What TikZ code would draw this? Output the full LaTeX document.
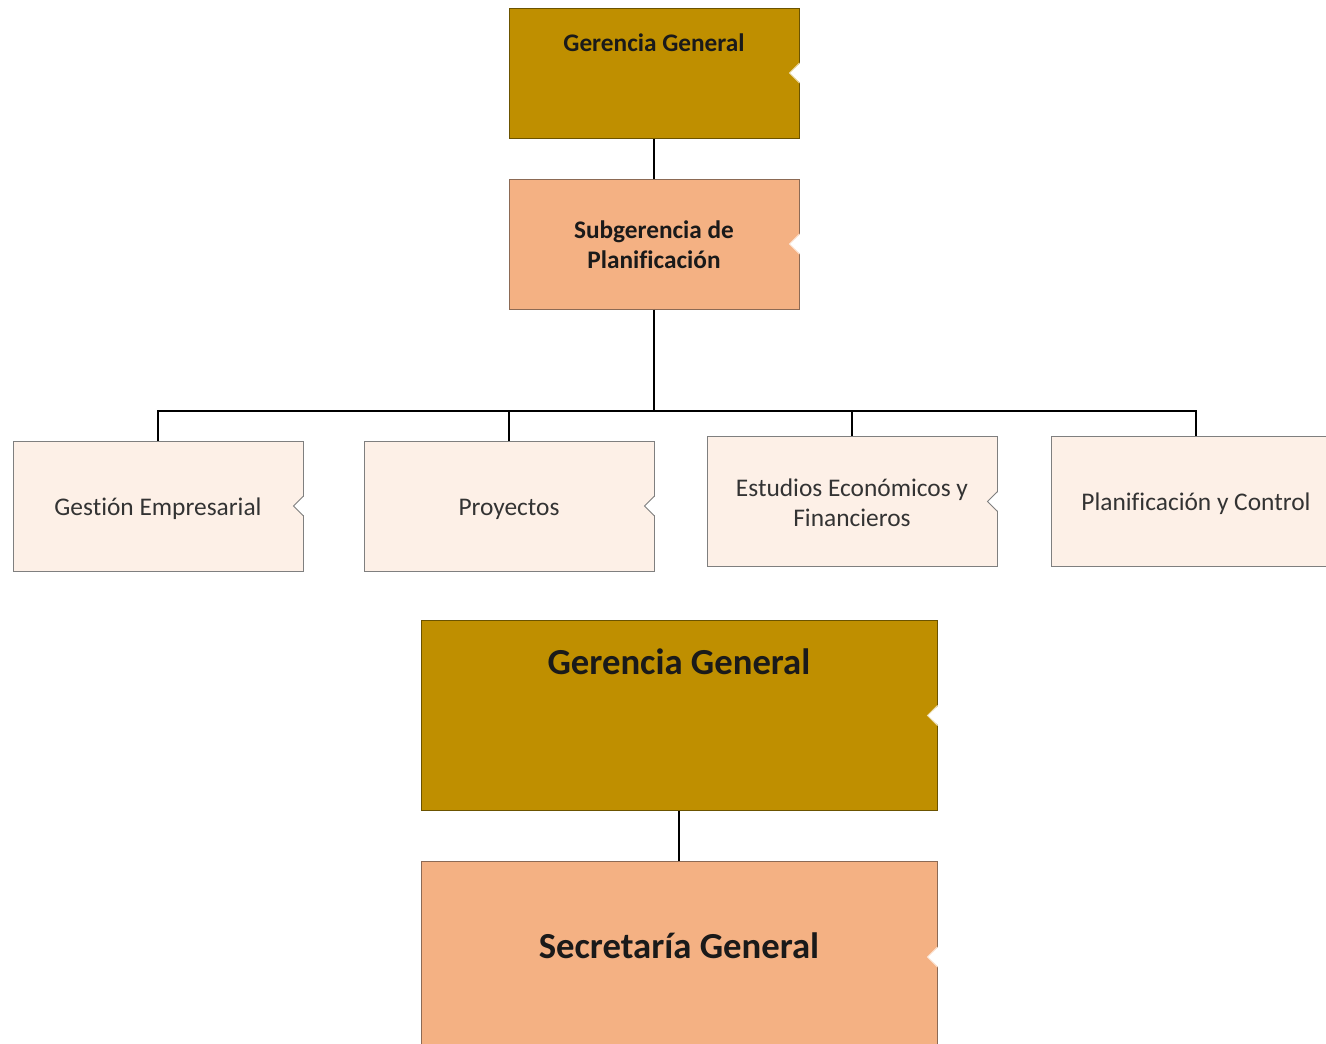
\documentclass[tikz,border=0pt]{standalone}
\usepackage{fontspec}
\setmainfont[Ligatures=NoCommon]{Carlito}
\definecolor{gold}{HTML}{BF8F00}
\definecolor{goldline}{HTML}{6B5300}
\definecolor{peach}{HTML}{F4B183}
\definecolor{peachline}{HTML}{8C6A55}
\definecolor{cream}{HTML}{FDF0E7}
\definecolor{creamline}{HTML}{7F7F7F}
\definecolor{txt}{HTML}{1A1A1A}
\definecolor{txtg}{HTML}{333333}
\newcommand{\notchat}[2]{%
  \fill[white] ([xshift=1.5pt,yshift=10.5pt]#1.east) -- ([xshift=-10pt]#1.east) -- ([xshift=1.5pt,yshift=-10.5pt]#1.east) -- cycle;
  \draw[#2,line width=1pt,line join=miter] ([yshift=10pt]#1.east) -- ([xshift=-10pt]#1.east) -- ([yshift=-10pt]#1.east);}
\begin{document}
\begin{tikzpicture}[x=1pt,y=-1pt,
  boxbase/.style={line width=1pt, inner sep=0pt, align=center},
  goldbox/.style={boxbase, draw=goldline, fill=gold},
  peachbox/.style={boxbase, draw=peachline, fill=peach},
  creambox/.style={boxbase, draw=creamline, fill=cream, minimum width=290pt, minimum height=130pt,
     text=txtg, font=\fontsize{25.4}{30}\selectfont},
  smallsize/.style={minimum width=290pt, minimum height=130pt},
  bigsize/.style={minimum width=516pt, minimum height=190pt},
  boldtxt/.style={text=txt, font=\fontsize{25.3}{30}\selectfont\bfseries, align=center},
  bigtxt/.style={text=txt, font=\fontsize{36.7}{42}\selectfont\bfseries},
  conn/.style={draw=black, line width=2.8pt},
  connthin/.style={draw=black, line width=2.3pt}]
\useasboundingbox (0,0) rectangle (1326,1044);
\clip (0,0) rectangle (1326,1044);
\fill[white] (0,0) rectangle (1326,1044);

% top chart
\node[goldbox, smallsize] (gg1) at (654,73) {};
\node[boldtxt] (gg1t) at (654,43) {Gerencia General};
\node[peachbox, smallsize] (sub) at (654,244) {};
\node[boldtxt] (subt) at (654,245) {Subgerencia de\\Planificación};

\node[creambox] (c1) at (158,506) {};
\node[creambox] (c2) at (509,506) {};
\node[creambox] (c3) at (852,501.5) {};
\node[creambox] (c4) at (1196,501.5) {};
\node[creambox, draw=none, fill=none] (c1t) at (158,509) {Gestión Empresarial};
\node[creambox, draw=none, fill=none] (c2t) at (509,509) {Proyectos};
\node[creambox, draw=none, fill=none] (c3t) at (852,503) {Estudios Económicos y\\Financieros};
\node[creambox, draw=none, fill=none] (c4t) at (1196,504) {Planificación y Control};

\notchat{gg1}{white!70!gold}
\notchat{sub}{white!70!peach}
\notchat{c1}{creamline}
\notchat{c2}{creamline}
\notchat{c3}{creamline}
\notchat{c4}{creamline}

\coordinate (bus) at (654,411);
\draw[connthin] (gg1) -- (sub);
\draw[conn] (sub.south) -- (bus);
\draw[conn] (bus) -| (c1.north);
\draw[conn] (bus) -| (c2.north);
\draw[conn] (bus) -| (c3.north);
\draw[conn] (bus) -| (c4.north);

% bottom chart
\node[goldbox, bigsize] (gg2) at (679,715.5) {};
\node[bigtxt] (gg2t) at (679,662) {Gerencia General};
\node[peachbox, bigsize, minimum height=192pt] (sec) at (679,957) {};
\node[bigtxt] (sect) at (679,946) {Secretaría General};
\notchat{gg2}{white!70!gold}
\notchat{sec}{white!70!peach}
\draw[connthin] (gg2) -- (sec);
\end{tikzpicture}
\end{document}
